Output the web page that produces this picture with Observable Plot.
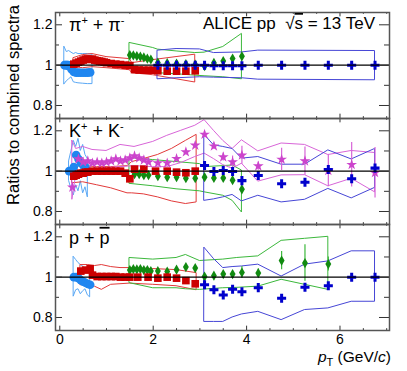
<!DOCTYPE html>
<html><head><meta charset="utf-8">
<script src="https://cdn.jsdelivr.net/npm/d3@7"></script>
<script src="https://cdn.jsdelivr.net/npm/@observablehq/plot@0.6"></script>
<style>body{margin:0;background:#fff;}</style>
</head><body><div id="chart"></div>
<script>
// ---------- tick values ----------
const xLabelTicks = [0, 2, 4, 6];
const xMinorTicks = [0.5, 1, 1.5, 2.5, 3, 3.5, 4.5, 5, 5.5, 6.5, 7];
const yLabelTicks = [0.8, 1, 1.2];
const yMinorTicks = [0.9, 1.1];
const panels = ["pi", "K", "p"];

// ---------- pions ----------
const pi_its_x = [0.1, 0.12, 0.14, 0.16, 0.18, 0.2, 0.25, 0.3, 0.35, 0.4, 0.45, 0.5, 0.55, 0.6, 0.65];
const pi_its_y = [1.0, 1.0, 1.0, 1.0, 1.0, 0.995, 0.98, 0.966, 0.963, 0.963, 0.962, 0.962, 0.962, 0.963, 0.964];
const pi_its_bx = [0.1, 0.15, 0.2, 0.25, 0.3, 0.35, 0.4, 0.5, 0.6, 0.7];
const pi_its_hi = [1.09, 1.065, 1.07, 1.062, 1.055, 1.06, 1.055, 1.055, 1.055, 1.052];
const pi_its_lo = [0.905, 0.92, 0.93, 0.94, 0.915, 0.912, 0.91, 0.908, 0.906, 0.906];

const pi_tpc_x = [0.3, 0.35, 0.4, 0.45, 0.5, 0.55, 0.6, 0.65, 0.7, 0.75, 0.8, 0.85, 0.9, 0.95, 1.0, 1.1, 1.2, 1.3, 1.4, 1.5, 1.6, 1.7, 1.8, 1.9, 2.0, 2.1, 2.3, 2.5, 2.7, 2.9];
const pi_tpc_y = [1.005, 1.01, 1.015, 1.02, 1.025, 1.03, 1.03, 1.028, 1.03, 1.025, 1.022, 1.02, 1.018, 1.015, 1.012, 1.008, 1.005, 1.003, 1.0, 0.998, 0.978, 0.976, 0.975, 0.975, 0.975, 0.972, 0.97, 0.97, 0.97, 0.972];
const pi_tpc_bx = [0.3, 0.5, 0.7, 1.0, 1.5, 1.55, 2.0, 2.5, 2.9];
const pi_tpc_hi = [1.035, 1.05, 1.055, 1.04, 1.03, 1.01, 1.025, 1.04, 1.052];
const pi_tpc_lo = [0.99, 0.985, 0.99, 0.985, 0.975, 0.96, 0.95, 0.93, 0.914];

const pi_tof_x = [1.5, 1.575, 1.65, 1.725, 1.8, 1.875, 1.95, 2.1, 2.3, 2.5, 2.7, 2.9, 3.1, 3.3, 3.5, 3.7, 3.9];
const pi_tof_y = [1.05, 1.048, 1.045, 1.042, 1.038, 1.032, 1.028, 1.012, 1.01, 1.008, 1.005, 1.003, 0.995, 1.011, 1.02, 1.033, 1.044];
const pi_tof_bx = [1.5, 2.0, 2.1, 2.5, 2.9, 3.1, 3.5, 3.9];
const pi_tof_hi = [1.11, 1.085, 1.077, 1.068, 1.06, 1.062, 1.09, 1.155];
const pi_tof_lo = [0.985, 0.965, 0.96, 0.955, 0.948, 0.945, 0.94, 0.93];

const pi_hp_x = [2.1, 2.3, 2.5, 2.7, 2.9, 3.1, 3.3, 3.5, 3.7, 3.9, 4.25, 4.75, 5.25, 5.75, 6.25, 6.75];
const pi_hp_y = [1.0, 1.0, 1.0, 1.0, 1.0, 1.0, 0.997, 0.997, 0.997, 0.997, 1.0, 1.0, 1.0, 1.0, 1.0, 1.0];
const pi_hp_bx = [2.1, 2.5, 3.0, 3.3, 3.9, 4.25, 6.75];
const pi_hp_hi = [1.072, 1.08, 1.078, 1.06, 1.063, 1.072, 1.07];
const pi_hp_lo = [0.93, 0.935, 0.94, 0.938, 0.935, 0.928, 0.925];

// ---------- kaons ----------
const k_its_x = [0.2, 0.25, 0.3, 0.35, 0.4, 0.45, 0.5, 0.55, 0.6];
const k_its_y = [1.0, 1.0, 1.02, 1.08, 1.06, 1.04, 1.03, 1.02, 1.0];
const k_its_bx = [0.2, 0.25, 0.3, 0.35, 0.4, 0.45, 0.5, 0.55, 0.6];
const k_its_hi = [1.05, 1.1, 1.15, 1.12, 1.16, 1.1, 1.13, 1.08, 1.06];
const k_its_lo = [0.95, 0.91, 0.88, 0.93, 0.9, 0.95, 0.89, 0.92, 0.87];

const k_tpc_x = [0.3, 0.35, 0.4, 0.45, 0.5, 0.55, 0.6, 0.7, 0.8, 0.9, 1.0, 1.1, 1.2, 1.3, 1.4, 1.5, 1.6, 1.8, 2.05, 2.3, 2.5, 2.7, 2.9];
const k_tpc_y = [0.975, 0.98, 0.985, 0.99, 0.99, 0.995, 0.995, 1.0, 1.0, 1.0, 1.0, 1.0, 1.0, 1.0, 0.99, 0.962, 1.01, 1.01, 1.0, 1.0, 0.995, 0.992, 1.0];
const k_tpc_bx = [0.27, 0.5, 0.8, 1.1, 1.45, 1.55, 1.8, 2.1, 2.4, 2.7, 2.93];
const k_tpc_hi = [1.02, 1.025, 1.02, 1.02, 1.025, 1.045, 1.06, 1.08, 1.11, 1.15, 1.18];
const k_tpc_lo = [0.94, 0.945, 0.93, 0.915, 0.89, 0.89, 0.885, 0.87, 0.85, 0.837, 0.845];

const k_tof_x = [1.6, 1.7, 1.8, 1.9, 2.1, 2.3, 2.5, 2.7, 2.9, 3.1, 3.3, 3.5, 3.7, 3.9];
const k_tof_y = [0.985, 0.985, 0.98, 0.98, 0.975, 0.97, 0.97, 0.965, 0.965, 0.97, 0.966, 0.966, 0.955, 0.91];
const k_tof_bx = [1.5, 2.0, 2.5, 3.0, 3.1, 3.5, 3.7, 3.9];
const k_tof_hi = [1.065, 1.055, 1.045, 1.035, 1.02, 1.025, 1.028, 1.003];
const k_tof_lo = [0.937, 0.925, 0.91, 0.9, 0.895, 0.878, 0.853, 0.795];

const k_kink_x = [0.27, 0.4, 0.5, 0.6, 0.7, 0.8, 0.9, 1.0, 1.1, 1.2, 1.3, 1.4, 1.5, 1.6, 1.7, 1.8, 1.9, 2.1, 2.3, 2.5, 2.7, 2.9, 3.1, 3.3, 3.5, 3.7, 3.9, 4.25, 4.75, 5.25, 5.75, 6.25, 6.75];
const k_kink_y = [0.92, 1.06, 1.045, 1.05, 1.04, 1.045, 1.04, 1.045, 1.05, 1.06, 1.05, 1.055, 1.065, 1.075, 1.065, 1.055, 1.045, 1.04, 1.04, 1.062, 1.095, 1.128, 1.182, 1.124, 1.07, 1.045, 1.079, 1.025, 1.058, 1.05, 1.003, 1.032, 0.992];
const k_kink_e = [0, 0, 0, 0, 0, 0, 0, 0, 0, 0, 0, 0, 0, 0, 0, 0, 0, 0, 0, 0, 0, 0, 0.015, 0.015, 0.02, 0.03, 0.045, 0.02, 0.055, 0.07, 0.08, 0.11, 0.125];
const k_kink_bx = [0.27, 0.35, 0.5, 0.7, 1.0, 1.3, 1.6, 2.0, 2.3, 2.6, 2.9, 3.1, 3.3, 3.5, 3.7, 3.9, 4.25, 4.75, 5.25, 5.75, 6.25, 6.75];
const k_kink_hi = [1.15, 1.11, 1.12, 1.105, 1.1, 1.13, 1.12, 1.145, 1.175, 1.2, 1.225, 1.253, 1.2, 1.15, 1.11, 1.153, 1.098, 1.137, 1.13, 1.08, 1.1, 1.09];
const k_kink_lo = [0.86, 0.98, 1.0, 1.01, 1.015, 1.02, 1.025, 1.02, 1.02, 1.04, 1.07, 1.087, 1.06, 1.03, 1.012, 1.037, 0.948, 0.979, 0.98, 0.925, 0.962, 0.895];

const k_hp_x = [3.1, 3.3, 3.5, 3.7, 3.9, 4.25, 4.75, 5.25, 5.75, 6.25, 6.75];
const k_hp_y = [1.028, 0.998, 1.003, 0.998, 0.953, 0.978, 0.937, 0.945, 1.008, 0.962, 1.015];
const k_hp_hi = [1.18, 1.128, 1.12, 1.11, 1.062, 1.07, 1.032, 1.032, 1.103, 1.058, 1.11];
const k_hp_lo = [0.853, 0.86, 0.87, 0.882, 0.85, 0.878, 0.845, 0.858, 0.912, 0.865, 0.917];

// ---------- protons ----------
const p_its_x = [0.3, 0.35, 0.4, 0.45, 0.5, 0.55, 0.6, 0.65];
const p_its_y = [1.0, 1.0, 0.995, 0.985, 0.978, 0.972, 0.966, 0.962];
const p_its_hi = [1.1, 1.085, 1.07, 1.06, 1.053, 1.04, 1.03, 1.028];
const p_its_lo = [0.905, 0.935, 0.94, 0.915, 0.93, 0.94, 0.91, 0.9];

const p_tpc_x = [0.45, 0.55, 0.65, 0.7, 0.8, 0.9, 1.0, 1.1, 1.2, 1.3, 1.4, 1.5, 1.67, 1.89, 2.1, 2.3, 2.5, 2.7, 2.9];
const p_tpc_y = [1.03, 1.035, 1.042, 1.01, 1.003, 1.003, 1.003, 1.003, 1.003, 1.0, 1.0, 1.0, 1.0, 1.0, 0.995, 1.0, 0.995, 0.983, 0.967];
const p_tpc_bx = [0.45, 0.6, 0.75, 0.9, 1.1, 1.3, 1.5, 2.0, 2.5, 2.93];
const p_tpc_hi = [1.06, 1.06, 1.055, 1.06, 1.05, 1.045, 1.045, 1.04, 1.035, 1.02];
const p_tpc_lo = [0.96, 0.965, 0.953, 0.937, 0.962, 0.965, 0.968, 0.962, 0.955, 0.935];

const p_tof_x = [1.5, 1.575, 1.65, 1.725, 1.8, 1.875, 1.95, 2.1, 2.3, 2.5, 2.7, 2.9, 3.1, 3.3, 3.5, 3.7, 3.9, 4.25, 4.75, 5.25, 5.75];
const p_tof_y = [1.035, 1.04, 1.038, 1.04, 1.035, 1.035, 1.03, 1.03, 1.028, 1.037, 1.05, 1.045, 1.003, 1.007, 1.015, 1.015, 1.023, 1.02, 1.082, 1.07, 1.065];
const p_tof_e = [0, 0, 0, 0, 0, 0, 0, 0, 0, 0, 0, 0, 0.01, 0.01, 0.012, 0.015, 0.03, 0.02, 0.045, 0.09, 0.035];
const p_tof_bx = [1.5, 2.0, 2.5, 2.7, 3.0, 3.5, 3.8, 4.25, 4.75, 5.25, 5.75];
const p_tof_hi = [1.095, 1.087, 1.095, 1.11, 1.08, 1.087, 1.095, 1.103, 1.18, 1.19, 1.2];
const p_tof_lo = [0.97, 0.945, 0.945, 0.94, 0.937, 0.945, 0.947, 0.953, 0.987, 0.962, 0.937];

const p_hp_x = [3.1, 3.3, 3.5, 3.7, 3.9, 4.25, 4.75, 5.25, 5.75, 6.25, 6.75];
const p_hp_y = [0.962, 0.937, 0.912, 0.94, 0.928, 0.948, 0.895, 0.95, 0.957, 1.0, 1.0];
const p_hp_hi = [1.145, 1.09, 1.045, 1.05, 1.053, 1.062, 1.003, 1.062, 1.078, 1.128, 1.128];
const p_hp_lo = [0.778, 0.778, 0.778, 0.8, 0.815, 0.828, 0.787, 0.837, 0.845, 0.878, 0.878];

// ---------- build tables ----------
const points = [];
const bands = [];
function addPts(sp, det, xs, ys, es) { xs.forEach((x, i) => points.push({sp, det, x, y: ys[i], e: es ? es[i] : 0})); }
function addBand(sp, det, xs, lo, hi) { xs.forEach((x, i) => bands.push({sp, det, x, lo: lo[i], hi: hi[i]})); }

addPts("pi", "its", pi_its_x, pi_its_y); addBand("pi", "its", pi_its_bx, pi_its_lo, pi_its_hi);
addPts("pi", "tpc", pi_tpc_x, pi_tpc_y); addBand("pi", "tpc", pi_tpc_bx, pi_tpc_lo, pi_tpc_hi);
addPts("pi", "tof", pi_tof_x, pi_tof_y); addBand("pi", "tof", pi_tof_bx, pi_tof_lo, pi_tof_hi);
addPts("pi", "hp", pi_hp_x, pi_hp_y); addBand("pi", "hp", pi_hp_bx, pi_hp_lo, pi_hp_hi);

addPts("K", "its", k_its_x, k_its_y); addBand("K", "its", k_its_bx, k_its_lo, k_its_hi);
addPts("K", "tpc", k_tpc_x, k_tpc_y); addBand("K", "tpc", k_tpc_bx, k_tpc_lo, k_tpc_hi);
addPts("K", "tof", k_tof_x, k_tof_y); addBand("K", "tof", k_tof_bx, k_tof_lo, k_tof_hi);
addPts("K", "kink", k_kink_x, k_kink_y, k_kink_e); addBand("K", "kink", k_kink_bx, k_kink_lo, k_kink_hi);
addPts("K", "hp", k_hp_x, k_hp_y); addBand("K", "hp", k_hp_x, k_hp_lo, k_hp_hi);

addPts("p", "its", p_its_x, p_its_y); addBand("p", "its", p_its_x, p_its_lo, p_its_hi);
addPts("p", "tpc", p_tpc_x, p_tpc_y); addBand("p", "tpc", p_tpc_bx, p_tpc_lo, p_tpc_hi);
addPts("p", "tof", p_tof_x, p_tof_y, p_tof_e); addBand("p", "tof", p_tof_bx, p_tof_lo, p_tof_hi);
addPts("p", "hp", p_hp_x, p_hp_y); addBand("p", "hp", p_hp_x, p_hp_lo, p_hp_hi);

// ---------- styles ----------
const markerColor = {its: "#1f86f0", tpc: "#cc0000", tof: "#118a11", hp: "#0000cc", kink: "#cc44cc"};
const bandColor = {its: "#5aa8f5", tpc: "#e23a3a", tof: "#3cb83c", hp: "#4646d6", kink: "#d865d8"};
const symbol = {its: "circle", tpc: "square", tof: "diamond", hp: "cross", kink: "star"};
const radius = {its: 4.3, tpc: 4.3, tof: 3.1, hp: 3.8, kink: 3.4};
const drawOrder = ["tof", "its", "tpc", "kink", "hp"];

const W = 407, H = 371, mt = 11, mb = 40, ml = 55, mr = 18;
const fh = (H - mt - mb) / 3, pw = W - ml - mr;

const marks = [];
for (const det of ["its", "tpc", "tof", "kink", "hp"]) {
  marks.push(Plot.areaY(bands.filter(b => b.det === det), {
    x: "x", y1: "lo", y2: "hi", fy: "sp", fill: "none", stroke: bandColor[det], strokeWidth: 1
  }));
}
for (const det of drawOrder) {
  const rows = points.filter(d => d.det === det);
  const errs = rows.filter(d => d.e > 0);
  if (errs.length) marks.push(Plot.ruleX(errs, {x: "x", y1: d => d.y - d.e, y2: d => d.y + d.e, fy: "sp", stroke: bandColor[det], strokeWidth: 1.2}));
  marks.push(Plot.dot(rows, {x: "x", y: "y", fy: "sp", symbol: symbol[det], r: radius[det], fill: markerColor[det], stroke: "none"}));
}
marks.push(Plot.ruleY([1], {stroke: "#000", strokeWidth: 1.2}));
// inward ticks (ROOT style)
marks.push(Plot.tickX(xLabelTicks, {x: d => d, insetTop: fh - 5, stroke: "#333"}));
marks.push(Plot.tickX(xLabelTicks, {x: d => d, insetBottom: fh - 5, stroke: "#333"}));
marks.push(Plot.tickX(xMinorTicks, {x: d => d, insetTop: fh - 2.5, stroke: "#333"}));
marks.push(Plot.tickX(xMinorTicks, {x: d => d, insetBottom: fh - 2.5, stroke: "#333"}));
marks.push(Plot.tickY(yLabelTicks, {y: d => d, insetRight: pw - 7, stroke: "#333"}));
marks.push(Plot.tickY(yLabelTicks, {y: d => d, insetLeft: pw - 10, stroke: "#333"}));
marks.push(Plot.tickY(yMinorTicks, {y: d => d, insetRight: pw - 4, stroke: "#333"}));
marks.push(Plot.tickY(yMinorTicks, {y: d => d, insetLeft: pw - 5, stroke: "#333"}));
marks.push(Plot.frame({stroke: "#555", strokeWidth: 1.5}));
marks.push(Plot.axisY({ticks: yLabelTicks, tickSize: 0, tickPadding: 3, tickFormat: d => (d === 1 ? "1" : d.toFixed(1))}));
marks.push(Plot.axisX({ticks: xLabelTicks, tickSize: 0, tickPadding: 4, tickFormat: d => String(d)}));

const svg = Plot.plot({
  width: W, height: H,
  marginTop: mt, marginBottom: mb, marginLeft: ml, marginRight: mr,
  x: {domain: [-0.092, 7.06], label: null},
  y: {domain: [0.7355, 1.261], label: null},
  fy: {domain: panels, padding: 0, axis: null, label: null},
  style: {fontFamily: "'Liberation Sans', Arial, Helvetica, sans-serif", fontSize: "14px", color: "#000", background: "#fff"},
  marks
});
document.getElementById("chart").appendChild(svg);

// ---------- text annotations ----------
const s = d3.select(svg);
const font = "'Liberation Sans', Arial, Helvetica, sans-serif";
const g = s.append("g").attr("font-family", font).attr("fill", "#000").attr("text-anchor", "start");

function panelLabel(i, build) {
  const t = g.append("text").attr("x", 69).attr("y", mt + i * fh + 19.5).attr("font-size", 18).attr("text-anchor", "start");
  build(t);
}
panelLabel(0, t => {
  t.append("tspan").text("π");
  t.append("tspan").attr("font-size", 11).attr("dy", -7).text("+");
  t.append("tspan").attr("dy", 7).text(" + π");
  t.append("tspan").attr("font-size", 11).attr("dy", -7).text("-");
});
panelLabel(1, t => {
  t.append("tspan").text("K");
  t.append("tspan").attr("font-size", 11).attr("dy", -7).text("+");
  t.append("tspan").attr("dy", 7).text(" + K");
  t.append("tspan").attr("font-size", 11).attr("dy", -7).text("-");
});
panelLabel(2, t => {
  t.append("tspan").text("p + ");
  t.append("tspan").style("text-decoration", "overline").text("p");
});

const alice = g.append("text").attr("x", 375).attr("y", 29).attr("font-size", 17).attr("text-anchor", "end");
alice.append("tspan").text("ALICE pp  √");
alice.append("tspan").style("text-decoration", "overline").text("s");
alice.append("tspan").text(" = 13 TeV");

g.append("text")
  .attr("transform", "translate(19,5) rotate(-90)")
  .attr("text-anchor", "end").attr("font-size", 16.5)
  .text("Ratios to combined spectra");

const xt = g.append("text").attr("x", 391).attr("y", 362).attr("font-size", 15.5).attr("text-anchor", "end");
xt.append("tspan").attr("font-style", "italic").text("p");
xt.append("tspan").attr("font-size", 11).attr("dy", 4).text("T");
xt.append("tspan").attr("dy", -4).text(" (GeV/");
xt.append("tspan").attr("font-style", "italic").text("c");
xt.append("tspan").text(")");
</script></body></html>
